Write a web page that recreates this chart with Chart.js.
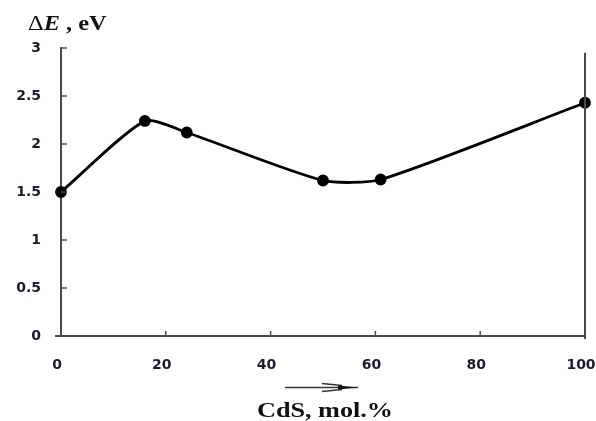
<!DOCTYPE html>
<html>
<head>
<meta charset="utf-8">
<script src="https://cdn.jsdelivr.net/npm/chart.js@4.4.0/dist/chart.umd.min.js"></script>
<style>
    html, body { margin: 0; padding: 0; background: #fff; }
    #wrap { position: relative; width: 596px; height: 421px; }
    .lbl {
        position: absolute;
        font-family: "Liberation Serif", "DejaVu Serif", serif;
        font-weight: bold;
        color: #111;
        white-space: nowrap;
        transform-origin: left top;
        line-height: 1;
    }
</style>
</head>
<body>
<div id="wrap">
    <canvas id="grafico" width="596" height="421"></canvas>
    <div class="lbl" id="tituloY" style="left:28px; top:13px; font-size:20px; transform:scaleX(1.22);"><span style="font-weight:normal">Δ</span><i>E</i> , eV</div>
    <div class="lbl" id="tituloX" style="left:257px; top:399px; font-size:22px; transform:scaleX(1.19);">CdS, mol.%</div>
</div>
<script>
// datos
const composicion = [0, 16, 24, 50, 61, 100];        // CdS, mol.%
const energia = [1.5, 2.24, 2.12, 1.62, 1.63, 2.43];  // ΔE, eV
const ticksX = [0, 20, 40, 60, 80, 100];
const ticksY = [0, 0.5, 1, 1.5, 2, 2.5, 3];

const colorEje = "#4a4a4a";
const colorTexto = "#1c1c30";

// marcas hacia adentro, linea derecha en x=100 y flecha bajo el eje
const extras = {
    id: "extras",
    afterDraw(chart) {
        const ctx = chart.ctx;
        const x = chart.scales.x;
        const y = chart.scales.y;
        const y0 = y.getPixelForValue(0);
        const x0 = x.getPixelForValue(0);
        ctx.save();
        ctx.strokeStyle = colorEje;
        ctx.lineWidth = 2;

        // linea vertical en 100
        const x100 = x.getPixelForValue(100);
        ctx.beginPath();
        ctx.moveTo(x100, y.getPixelForValue(2.95));
        ctx.lineTo(x100, y0 + 3);
        ctx.stroke();

        // prolongacion del eje x a la izquierda
        ctx.beginPath();
        ctx.moveTo(x0 - 6, y0);
        ctx.lineTo(x0, y0);
        ctx.stroke();

        ctx.lineWidth = 1.5;
        ticksY.forEach(function(v){
            const py = y.getPixelForValue(v);
            ctx.beginPath();
            ctx.moveTo(x0, py);
            ctx.lineTo(x0 + 6, py);
            ctx.stroke();
        });
        ticksX.forEach(function(v){
            const px = x.getPixelForValue(v);
            ctx.beginPath();
            ctx.moveTo(px, y0);
            ctx.lineTo(px, y0 - 5);
            ctx.stroke();
        });

        // flecha
        ctx.strokeStyle = "#333";
        ctx.lineWidth = 1.3;
        ctx.beginPath();
        ctx.moveTo(285, 387.5);
        ctx.lineTo(358, 387.5);
        ctx.moveTo(322, 383.5);
        ctx.lineTo(342, 385.5);
        ctx.moveTo(322, 391.5);
        ctx.lineTo(342, 389.5);
        ctx.stroke();
        ctx.fillStyle = "#111";
        ctx.beginPath();
        ctx.moveTo(338, 385.5);
        ctx.lineTo(357, 387.5);
        ctx.lineTo(338, 389.5);
        ctx.closePath();
        ctx.fill();
        ctx.restore();
    }
};

const fuenteTicks = { family: "DejaVu Sans", size: 14, weight: "bold" };

new Chart(document.getElementById("grafico"), {
    type: "scatter",
    plugins: [extras],
    data: {
        datasets: [{
            data: composicion.map(function(c, i){ return { x: c, y: energia[i] }; }),
            showLine: true,
            borderColor: "#000",
            backgroundColor: "#000",
            borderWidth: 2.8,
            tension: 0.22,
            pointRadius: 4.5,
            pointHoverRadius: 4.5,
            clip: false
        }]
    },
    options: {
        responsive: false,
        animation: false,
        devicePixelRatio: 1,
        layout: {
            padding: { top: 48, right: 11, left: 0, bottom: 0 }
        },
        plugins: {
            legend: { display: false },
            tooltip: { enabled: false }
        },
        scales: {
            x: {
                type: "linear",
                min: 0,
                max: 100,
                afterBuildTicks: function(scale){
                    scale.ticks = ticksX.map(function(v){ return { value: v }; });
                },
                afterFit: function(scale){
                    scale.height = 85;
                    scale.paddingLeft = 0;
                    scale.paddingRight = 0;
                },
                grid: { display: false, drawTicks: false },
                border: { display: true, color: colorEje, width: 2 },
                ticks: {
                    font: fuenteTicks,
                    color: colorTexto,
                    padding: 21,
                    labelOffset: -4,
                    maxRotation: 0,
                    callback: function(v){ return String(v); }
                }
            },
            y: {
                min: 0,
                max: 3,
                afterBuildTicks: function(scale){
                    scale.ticks = ticksY.map(function(v){ return { value: v }; });
                },
                afterFit: function(scale){
                    scale.width = 61;
                },
                grid: { display: false, drawTicks: false },
                border: { display: true, color: colorEje, width: 2 },
                ticks: {
                    font: fuenteTicks,
                    color: colorTexto,
                    padding: 20,
                    callback: function(v){ return String(v); }
                }
            }
        }
    }
});
</script>
</body>
</html>
